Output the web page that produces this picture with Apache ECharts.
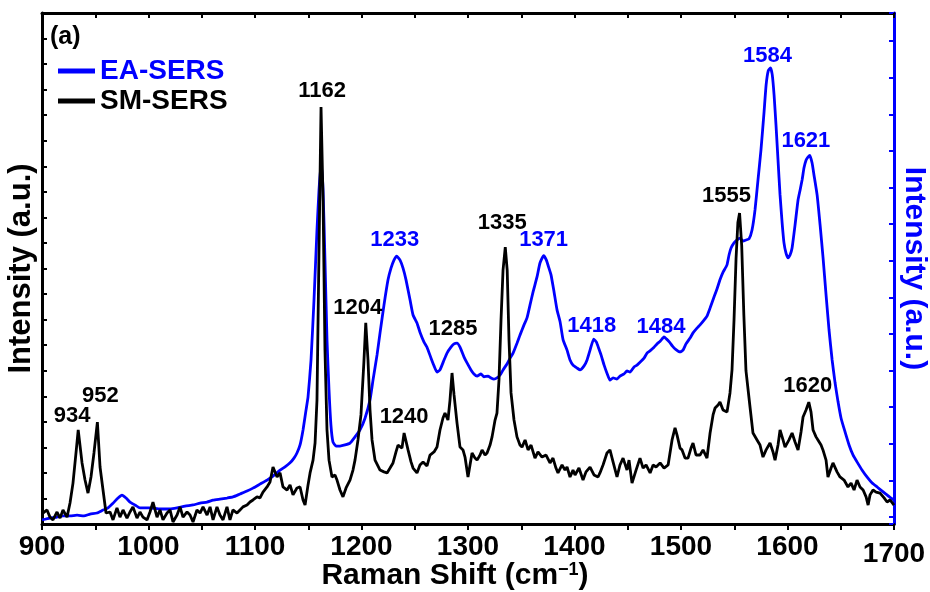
<!DOCTYPE html>
<html>
<head>
<meta charset="utf-8">
<script src="https://cdn.jsdelivr.net/npm/echarts@6/dist/echarts.min.js"></script>
<style>
  html, body { margin: 0; padding: 0; background: #fff; }
  #chart { width: 930px; height: 592px; }
</style>
</head>
<body>
<div id="chart"></div>
<script>
// Raman shift (cm-1) vs intensity (a.u.) for the two SERS spectra
const smSers = [
  [900,0.40],[901,0.35],[904.7,0.55],[907.5,0.27],[910.3,0.16],[914.1,0.47],[916.9,0.23],[919.7,0.55],[923.5,0.27],[926.3,0.82],
  [929.1,1.60],[932.2,2.90],[934,3.68],[937.6,2.39],[940.4,1.72],[943.2,1.21],[946,1.84],[948.8,2.78],[952,3.99],[954.5,2.23],
  [957.3,1.33],[960.1,0.43],[963.9,0.47],[966.7,0.16],[970.4,0.63],[973.2,0.27],[976.1,0.55],[979.8,0.23],[982.6,0.47],[985.4,0.67],
  [989.2,0.23],[992,0.47],[994.8,0.27],[998.6,0.16],[1001.4,0.47],[1004.2,0.86],[1008,0.27],[1010.8,0.55],[1013.6,0.16],[1017.4,0.43],
  [1020.2,0.55],[1023,0.08],[1026.8,0.35],[1029.6,0.67],[1032.4,0.27],[1036.2,0.47],[1039,0.35],[1041.8,0.08],[1045.5,0.55],[1048.4,0.43],
  [1051.2,0.67],[1055,0.35],[1057.8,0.67],[1060.6,0.16],[1064.3,0.67],[1067.1,0.35],[1070,0.16],[1073.7,0.67],[1076.5,0.16],[1079.3,0.55],
  [1083.1,0.43],[1085.9,0.55],[1088.7,0.67],[1092.5,0.74],[1095.3,0.86],[1098.1,0.94],[1101.9,1.06],[1104.7,1.02],[1107.5,1.25],[1111.3,1.45],
  [1114.1,1.64],[1116.9,2.23],[1120.7,1.84],[1123.5,2.00],[1126.3,1.45],[1130.1,1.33],[1132.9,1.53],[1135.7,1.14],[1139.4,1.41],[1142.3,1.45],
  [1145.1,0.94],[1147,0.74],[1149.8,1.53],[1151.7,2.00],[1154.5,2.50],[1156.4,3.17],[1158.2,4.85],[1160.1,10.72],[1162,16.32],[1163.9,12.68],
  [1165.7,6.81],[1167.6,3.68],[1169.5,2.50],[1172.3,1.84],[1175.1,1.92],[1177,1.72],[1179.8,1.33],[1182.6,1.06],[1185.5,1.41],[1189.2,1.72],
  [1192,2.11],[1193.9,2.50],[1196.7,3.29],[1199.5,4.27],[1202.2,6.30],[1204,7.87],[1206.1,6.42],[1208,4.46],[1209.9,3.29],[1212.7,2.50],
  [1217.4,2.11],[1221.1,2.04],[1224,2.00],[1226.8,2.19],[1229.6,2.39],[1232.4,2.82],[1234.3,3.09],[1238,2.97],[1240,3.56],[1243.7,2.90],
  [1246.5,2.43],[1248.4,2.19],[1252.1,2.00],[1254.9,2.31],[1257.8,2.43],[1261.5,2.27],[1264.3,2.70],[1268.1,2.82],[1270.9,3.01],[1273.7,3.68],
  [1276.5,4.15],[1278.4,4.34],[1281.2,4.07],[1283.1,4.85],[1285,5.91],[1286.9,5.05],[1289.7,3.95],[1292.5,3.01],[1295.3,2.90],[1297.2,2.62],
  [1300,1.84],[1301.9,2.31],[1303.8,2.78],[1306.6,2.58],[1308.5,2.50],[1311.3,2.70],[1313.2,2.90],[1316,2.70],[1317.9,2.78],[1320.7,3.09],
  [1322.6,3.41],[1325.4,4.07],[1327.2,4.34],[1329.1,5.64],[1331,7.98],[1332.9,9.94],[1335,10.84],[1336.8,9.94],[1338.5,7.20],[1340.4,5.13],
  [1343.2,4.07],[1346,3.41],[1348.8,3.09],[1350.7,3.01],[1353.6,3.29],[1356.4,2.90],[1359.2,3.09],[1362.9,2.58],[1365.7,2.82],[1369.5,2.62],
  [1373.3,2.70],[1377,2.39],[1379.8,2.58],[1382.6,2.19],[1384.5,2.00],[1388.3,2.31],[1391.1,2.11],[1393,2.23],[1395.8,1.84],[1398.6,2.11],
  [1400.5,1.92],[1404.2,2.19],[1408,1.72],[1410.8,2.04],[1414.6,2.23],[1418.3,1.92],[1422.1,1.84],[1423.9,2.00],[1426.8,2.31],[1430.5,2.78],
  [1433.3,2.90],[1436.2,2.43],[1439.9,1.84],[1442.7,2.31],[1445.6,2.58],[1449.3,2.11],[1451.2,2.50],[1454,1.60],[1457.8,2.11],[1461.5,2.58],
  [1464.4,2.19],[1467.2,2.31],[1471,2.00],[1473.8,2.31],[1476.6,2.23],[1480.4,2.39],[1484.1,2.19],[1487.9,2.31],[1491.6,3.29],[1494.4,3.76],
  [1496.3,3.48],[1499.1,2.97],[1501,2.90],[1503.8,2.58],[1506.6,2.58],[1509.4,2.97],[1511.3,3.17],[1514.1,2.70],[1517.9,2.70],[1520.7,2.90],
  [1524.4,2.58],[1527.3,3.56],[1530.1,4.27],[1532,4.54],[1534.8,4.66],[1536.6,4.77],[1539.5,4.46],[1543.2,4.38],[1546,5.13],[1547.9,6.03],
  [1549.8,8.0],[1551.7,10.4],[1553.4,11.8],[1555,12.17],[1557,10.9],[1559,8.2],[1561,6.0],[1564.8,4.58],[1567.6,3.56],[1571.4,3.29],
  [1574.2,3.09],[1577,2.62],[1579.9,2.90],[1583.6,3.17],[1586.4,2.82],[1588.3,2.50],[1591.1,3.09],[1593,3.68],[1595.8,3.29],[1597.7,3.01],
  [1601.4,3.29],[1604.3,3.56],[1607.1,3.21],[1609.9,2.90],[1612.7,3.60],[1614.6,4.19],[1617.4,4.46],[1620,4.77],[1622.1,4.38],[1624,3.68],
  [1626.8,3.41],[1628.6,3.29],[1631.5,3.09],[1633.3,2.90],[1636.2,2.50],[1638,1.84],[1640.9,2.19],[1642.7,2.39],[1646.5,2.04],[1649.3,1.84],
  [1653.1,1.72],[1656.8,1.45],[1659.7,1.60],[1662.5,1.33],[1665.3,1.72],[1668.1,1.45],[1671,1.33],[1673.8,1.06],[1675.7,0.74],[1677.5,1.14],
  [1680.3,1.33],[1683.2,1.25],[1686.9,1.21],[1690.7,1.02],[1693.5,0.86],[1696.3,0.94],[1700,0.74]
];

const eaSers = [
  [900,-0.08],[907.5,-0.03],[914.1,0],[919.7,0.03],[926.3,0.03],[932.9,0.05],[939.4,0.03],[945.1,0.08],[951.6,0.11],[957.3,0.19],
  [962,0.25],[966.7,0.38],[971.4,0.52],[975.1,0.60],[978.9,0.52],[982.6,0.41],[987.3,0.33],[992,0.25],[1001.4,0.25],[1010.8,0.22],
  [1020.2,0.22],[1026.8,0.25],[1034.3,0.30],[1041.8,0.33],[1048.4,0.38],[1055,0.41],[1060.6,0.46],[1067.1,0.49],[1073.7,0.52],[1079.3,0.55],
  [1085.9,0.63],[1092.5,0.71],[1098.1,0.79],[1104.7,0.90],[1111.3,1.01],[1116.9,1.12],[1123.5,1.28],[1128.2,1.37],[1132.9,1.48],[1136.6,1.61],
  [1139.4,1.75],[1142.3,1.97],[1145.1,2.38],[1147.9,2.92],[1149.8,3.28],[1152.6,4.29],[1155.4,5.93],[1158.2,7.84],[1160.1,8.93],[1162,9.67],
  [1163.9,8.93],[1165.7,7.02],[1167.6,4.84],[1169.5,3.47],[1171.3,2.51],[1173.2,2.05],[1176,1.94],[1179.8,1.94],[1184.5,1.97],[1189.2,2.02],
  [1193.9,2.19],[1198.6,2.38],[1203.3,2.70],[1208,3.20],[1210.8,3.74],[1214.6,4.43],[1217.4,5.03],[1221.1,5.79],[1224.9,6.48],[1227.7,6.80],
  [1230.5,7.02],[1233,7.13],[1236.2,7.02],[1239,6.80],[1241.8,6.48],[1245.6,5.93],[1248.4,5.52],[1252.1,5.30],[1254.9,5.05],[1258.7,4.78],
  [1261.5,4.64],[1265.3,4.34],[1268.1,4.13],[1270.9,3.96],[1273.7,4.02],[1277.5,4.29],[1280.3,4.48],[1284,4.64],[1286.9,4.73],[1289.7,4.75],
  [1292.5,4.64],[1296.3,4.37],[1299.1,4.21],[1302.8,4.02],[1305.6,3.91],[1308.5,3.85],[1312.2,3.91],[1315,3.83],[1318.8,3.85],[1321.6,3.80],
  [1324.4,3.77],[1327.2,3.80],[1330.1,3.88],[1332.9,4.02],[1336.6,4.18],[1339.5,4.34],[1342.3,4.48],[1346,4.75],[1348.8,4.97],[1352.6,5.25],
  [1355.4,5.44],[1358.2,5.79],[1361.1,6.15],[1364.8,6.56],[1367.6,6.94],[1371,7.14],[1373.6,7.02],[1376,6.80],[1378,6.61],[1380.8,6.15],
  [1383.6,5.66],[1386.5,5.33],[1389.3,4.84],[1393,4.56],[1395.8,4.29],[1398.6,4.15],[1402.4,4.07],[1405.2,4.02],[1409,4.13],[1411.8,4.29],
  [1414.6,4.56],[1418,4.86],[1420.6,4.78],[1422.6,4.62],[1424.9,4.43],[1427.8,4.15],[1430.5,3.93],[1433.3,3.74],[1436.2,3.80],[1439.9,3.77],
  [1442.7,3.85],[1446.5,3.91],[1449.3,3.99],[1452.1,3.96],[1455.9,4.10],[1458.7,4.15],[1461.5,4.23],[1465.3,4.34],[1468.1,4.48],[1470.9,4.54],
  [1474.7,4.64],[1477.5,4.73],[1480.4,4.80],[1484,4.92],[1486.5,4.86],[1489.2,4.78],[1492,4.67],[1495,4.58],[1499.1,4.51],[1501.9,4.56],
  [1504.7,4.73],[1508.5,4.89],[1511.3,5.03],[1515,5.16],[1517.9,5.25],[1521.6,5.38],[1524.4,5.49],[1527.3,5.71],[1531,6.01],[1533.8,6.23],
  [1536.6,6.48],[1539.5,6.69],[1543.2,6.89],[1545.1,7.16],[1547,7.35],[1549.8,7.49],[1552.6,7.57],[1555.4,7.62],[1558.3,7.54],[1561.1,7.57],
  [1563.9,7.60],[1566.7,7.84],[1569.5,8.39],[1572.3,9.21],[1575.1,10.03],[1578,11.07],[1579.9,11.80],[1581.9,12.19],[1584,12.27],[1585.7,12.08],
  [1587.4,11.53],[1589.2,10.71],[1591.1,9.75],[1593,8.80],[1594.9,8.06],[1596.7,7.49],[1598.6,7.21],[1600.5,7.08],[1602.4,7.16],[1604.3,7.35],
  [1607.1,7.98],[1609.9,8.66],[1611.8,8.93],[1613.7,9.21],[1615.5,9.54],[1617.4,9.75],[1619.2,9.83],[1621,9.88],[1623.1,9.67],[1624.9,9.34],
  [1627.8,8.80],[1630.6,7.98],[1633.4,7.08],[1636.2,6.07],[1639,5.11],[1641.9,4.29],[1644.7,3.66],[1647.5,3.14],[1650.3,2.70],[1654.1,2.32],
  [1657.8,1.97],[1661.6,1.69],[1665.4,1.50],[1670.1,1.28],[1674.8,1.09],[1679.5,0.93],[1684.2,0.82],[1688.9,0.71],[1693.6,0.60],[1697.3,0.52],
  [1700,0.46]
];

// Labelled band positions (cm-1)
const smPeaks = [934, 952, 1162, 1204, 1240, 1285, 1335, 1555, 1620];
const eaPeaks = [1233, 1371, 1418, 1484, 1584, 1621];

// Shift of each band label from its peak, in pixels
const smShift = {934:[-6,-14], 952:[3,-26], 1162:[1,-16], 1204:[-8,-15], 1240:[0,-16],
                 1285:[1,-44], 1335:[-3,-24], 1555:[-13,-17], 1620:[-1,-16]};
const eaShift = {1233:[-2,-16], 1371:[0,-16], 1418:[-2,-13], 1484:[-3,-10], 1584:[-3,-12], 1621:[-4,-14]};

const xTicks = { min: 900, max: 1700, step: 50 };

const FONT = 'Liberation Sans, Arial, Helvetica, sans-serif';
const BLUE = '#0000ff';
const BLACK = '#000000';

function peakPoints(series, peaks, shift, color) {
  return peaks.map(function (wn) {
    const p = series.find(function (d) { return d[0] === wn; });
    return {
      value: p,
      label: {
        show: true, position: 'inside', offset: shift[wn],
        formatter: String(wn), color: color, opacity: 1,
        fontSize: 22, fontWeight: 'bold', fontFamily: FONT
      }
    };
  });
}

const chart = echarts.init(document.getElementById('chart'), null, { renderer: 'canvas' });

chart.setOption({
  animation: false,
  backgroundColor: '#ffffff',
  textStyle: { fontFamily: FONT },
  title: {
    text: '(a)', left: 45, top: 20, padding: 5,
    textStyle: { fontSize: 25, fontWeight: 'bold', color: BLACK, fontFamily: FONT }
  },
  legend: {
    orient: 'vertical', left: 58, top: 57, padding: 0,
    itemWidth: 37, itemHeight: 5, itemGap: 2, icon: 'rect',
    textStyle: { fontSize: 28, fontWeight: 'bold', fontFamily: FONT, lineHeight: 28 },
    data: [
      { name: 'EA-SERS', textStyle: { color: BLUE } },
      { name: 'SM-SERS', textStyle: { color: BLACK } }
    ]
  },
  grid: { left: 42, right: 36, top: 13, bottom: 68, containLabel: false, outerBoundsMode: 'none' },
  xAxis: [
    {
      type: 'value', position: 'bottom',
      min: xTicks.min, max: xTicks.max, interval: xTicks.step,
      name: '{t|Raman Shift (cm}{s|−1}{t|)}',
      nameLocation: 'middle', nameGap: 37, nameMoveOverlap: false,
      nameTextStyle: {
        padding: [0, 26, 0, 0],
        rich: {
          t: { fontSize: 30, fontWeight: 'bold', color: BLACK, fontFamily: FONT, lineHeight: 30 },
          s: { fontSize: 18, fontWeight: 'bold', color: BLACK, fontFamily: FONT, verticalAlign: 'top', lineHeight: 18 }
        }
      },
      axisLine: { show: true, onZero: false, lineStyle: { color: BLACK, width: 3 } },
      axisTick: { show: true, inside: false, length: 6, lineStyle: { color: BLACK, width: 2 } },
      axisLabel: {
        show: true, margin: 9, color: BLACK, fontSize: 28, fontWeight: 'bold', fontFamily: FONT,
        showMinLabel: true, showMaxLabel: true,
        formatter: function (v) {
          if (v % 100 !== 0) return '';
          return v === xTicks.max ? '{e|' + v + '}' : String(v);
        },
        rich: { e: { fontSize: 28, fontWeight: 'bold', color: BLACK, fontFamily: FONT, padding: [7, 0, 0, 0] } }
      },
      splitLine: { show: false }
    },
    {
      type: 'value', position: 'top',
      min: xTicks.min, max: xTicks.max, interval: xTicks.step,
      axisLine: { show: true, onZero: false, lineStyle: { color: BLACK, width: 3 } },
      axisTick: { show: true, inside: true, length: 5, lineStyle: { color: BLACK, width: 2 } },
      axisLabel: { show: false },
      splitLine: { show: false }
    }
  ],
  yAxis: [
    {
      type: 'value', position: 'left',
      min: 0, max: 20, interval: 1,
      name: 'Intensity (a.u.)', nameLocation: 'middle', nameGap: 5, nameMoveOverlap: false,
      nameTextStyle: { fontSize: 31, fontWeight: 'bold', color: BLACK, fontFamily: FONT },
      axisLine: { show: true, onZero: false, lineStyle: { color: BLACK, width: 3 } },
      axisTick: { show: true, inside: true, length: 5, lineStyle: { color: BLACK, width: 2 } },
      axisLabel: { show: false },
      splitLine: { show: false }
    },
    {
      type: 'value', position: 'right',
      min: -0.19, max: 13.77, minInterval: 1, maxInterval: 1, splitNumber: 14,
      name: 'Intensity (a.u.)', nameLocation: 'middle', nameGap: 5, nameRotate: -90, nameMoveOverlap: false,
      nameTextStyle: { fontSize: 30, fontWeight: 'bold', color: BLUE, fontFamily: FONT },
      axisLine: { show: true, onZero: false, lineStyle: { color: BLUE, width: 3 } },
      axisTick: { show: true, inside: true, length: 5, lineStyle: { color: BLUE, width: 2 } },
      axisLabel: { show: false },
      splitLine: { show: false }
    }
  ],
  series: [
    {
      name: 'EA-SERS', type: 'line', xAxisIndex: 0, yAxisIndex: 1,
      data: eaSers, symbol: 'none', showSymbol: false, smooth: 0.15,
      color: BLUE, lineStyle: { color: BLUE, width: 2.8 }, z: 2
    },
    {
      name: 'SM-SERS', type: 'line', xAxisIndex: 0, yAxisIndex: 0,
      data: smSers, symbol: 'none', showSymbol: false,
      color: BLACK, lineStyle: { color: BLACK, width: 2.8 }, z: 3
    },
    {
      name: 'SM-SERS bands', type: 'scatter', xAxisIndex: 0, yAxisIndex: 0,
      symbolSize: 0, silent: true, z: 5, itemStyle: { opacity: 1 },
      data: peakPoints(smSers, smPeaks, smShift, BLACK)
    },
    {
      name: 'EA-SERS bands', type: 'scatter', xAxisIndex: 0, yAxisIndex: 1,
      symbolSize: 0, silent: true, z: 5, itemStyle: { opacity: 1 },
      data: peakPoints(eaSers, eaPeaks, eaShift, BLUE)
    }
  ]
});
</script>
</body>
</html>
